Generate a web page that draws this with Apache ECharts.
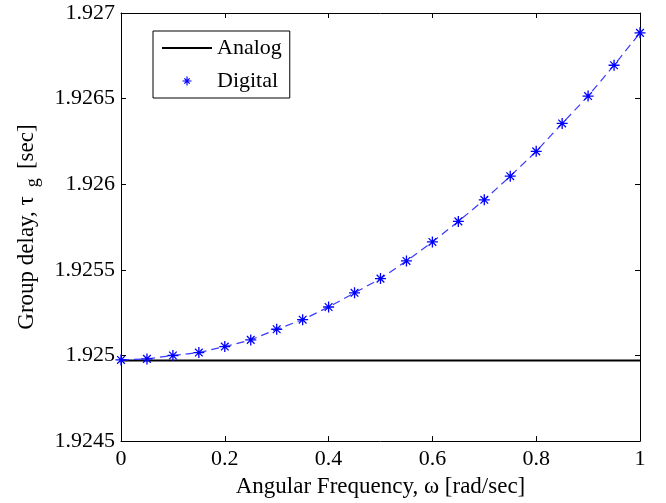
<!DOCTYPE html>
<html>
<head>
<meta charset="utf-8">
<script src="https://cdn.jsdelivr.net/npm/echarts@6/dist/echarts.min.js"></script>
<style>
html, body { margin: 0; padding: 0; background: #fff; }
#chart { width: 666px; height: 503px; }
</style>
</head>
<body>
<div id="chart"></div>
<script>
// angular frequency samples (rad/sec)
const omega = [0, 0.05, 0.1, 0.15, 0.2, 0.25, 0.3, 0.35, 0.4, 0.45, 0.5,
    0.55, 0.6, 0.65, 0.7, 0.75, 0.8, 0.85, 0.9, 0.95, 1]

// group delay (sec)
const analog = [1.92497, 1.92497, 1.92497, 1.92497, 1.92497, 1.92497, 1.92497,
    1.92497, 1.92497, 1.92497, 1.92497, 1.92497, 1.92497, 1.92497, 1.92497,
    1.92497, 1.92497, 1.92497, 1.92497, 1.92497, 1.92497]
const digital = [1.924974, 1.92498, 1.925, 1.925017, 1.925052, 1.925091, 1.925153,
    1.925209, 1.925283, 1.925366, 1.925449, 1.925552, 1.925663, 1.925783,
    1.925909, 1.926047, 1.926192, 1.926355, 1.926515, 1.926695, 1.926884]

const xTicks = ['0', '0.2', '0.4', '0.6', '0.8', '1']
const yTicks = ['1.9245', '1.925', '1.9255', '1.926', '1.9265', '1.927']

const font = 'Liberation Serif'

// matlab style '*' marker
const star = 'path://M4.4,0H5.6V10H4.4Z M0,4.4H10V5.6H0Z ' +
    'M1.1,1.9L1.9,1.1L8.9,8.1L8.1,8.9Z M8.1,1.1L8.9,1.9L1.9,8.9L1.1,8.1Z'
// legend icons drawn in a 50x12 box
const lineIcon = 'path://M0,0M50,12M0,5H50V7H0Z'
const starIcon = 'path://M0,0M50,12M24.4,1.5H25.6V10.5H24.4Z M20.5,5.4H29.5V6.6H20.5Z ' +
    'M21.9,3.7L22.7,2.9L28.1,8.3L27.3,9.1Z M27.3,2.9L28.1,3.7L22.7,9.1L21.9,8.3Z'

const axisLine = { onZero: false, lineStyle: { color: '#000', width: 1 } }
const axisTick = { inside: true, length: 5, lineStyle: { color: '#000' } }

const chart = echarts.init(document.getElementById('chart'))

chart.setOption({
    animation: false,
    backgroundColor: '#fff',
    grid: { left: 121, right: 26, top: 13, bottom: 60 },
    legend: {
        orient: 'vertical',
        left: 153,
        top: 31,
        itemWidth: 50,
        itemHeight: 12,
        itemGap: 11,
        padding: [6, 8, 6, 9],
        borderColor: '#000',
        borderWidth: 1,
        backgroundColor: '#fff',
        selectedMode: false,
        textStyle: { fontFamily: font, fontSize: 22, color: '#000' },
        data: [
            { name: 'Analog', icon: lineIcon, itemStyle: { color: '#000', borderWidth: 0 } },
            { name: 'Digital', icon: starIcon, itemStyle: { color: '#0000ff', borderWidth: 0 } },
        ],
    },
    xAxis: [
        {
            type: 'value',
            position: 'bottom',
            min: 0,
            max: 1,
            interval: 0.2,
            axisLine,
            axisTick,
            splitLine: { show: false },
            axisLabel: {
                fontFamily: font,
                fontSize: 22,
                color: '#000',
                margin: 7,
                formatter: (v) => xTicks[Math.round(v / 0.2)],
            },
            name: 'Angular Frequency, \u03c9 [rad/sec]',
            nameLocation: 'middle',
            nameGap: 30,
            nameTextStyle: { fontFamily: font, fontSize: 23, color: '#000' },
        },
        {
            type: 'value',
            position: 'top',
            min: 0,
            max: 1,
            interval: 0.2,
            axisLine,
            axisTick,
            splitLine: { show: false },
            axisLabel: { show: false },
        },
    ],
    yAxis: [
        {
            type: 'value',
            position: 'left',
            min: 1.9245,
            max: 1.927,
            interval: 0.0005,
            axisLine,
            axisTick,
            splitLine: { show: false },
            axisLabel: {
                fontFamily: font,
                fontSize: 22,
                color: '#000',
                margin: 6,
                formatter: (v) => yTicks[Math.round((v - 1.9245) / 0.0005)],
            },
            name: '{a|Group delay, \u03c4}{s|  g} {a| [sec]}',
            nameLocation: 'middle',
            nameGap: 79,
            nameTextStyle: {
                color: '#000',
                rich: {
                    a: { fontFamily: font, fontSize: 23, color: '#000', lineHeight: 27, verticalAlign: 'top' },
                    s: { fontFamily: font, fontSize: 18, color: '#000', lineHeight: 27, verticalAlign: 'bottom' },
                },
            },
        },
        {
            type: 'value',
            position: 'right',
            min: 1.9245,
            max: 1.927,
            interval: 0.0005,
            axisLine,
            axisTick,
            splitLine: { show: false },
            axisLabel: { show: false },
        },
    ],
    series: [
        {
            name: 'Analog',
            type: 'line',
            xAxisIndex: 0,
            yAxisIndex: 0,
            showSymbol: false,
            color: '#000',
            lineStyle: { color: '#000', width: 2 },
            data: omega.map((w, i) => [w, analog[i]]),
            z: 2,
        },
        {
            name: 'Digital',
            type: 'line',
            xAxisIndex: 0,
            yAxisIndex: 0,
            symbol: star,
            symbolSize: 11,
            color: '#0000ff',
            itemStyle: { color: '#0000ff', borderWidth: 0 },
            lineStyle: { color: '#3a3aff', width: 1.2, type: [8, 5] },
            data: omega.map((w, i) => [w, digital[i]]),
            z: 3,
        },
    ],
})
</script>
</body>
</html>
